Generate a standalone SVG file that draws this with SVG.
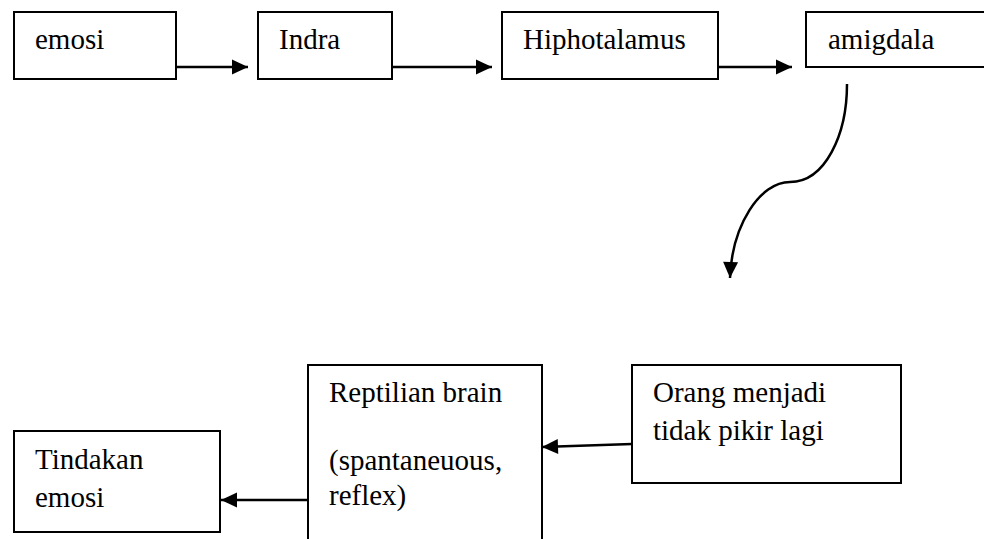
<svg xmlns="http://www.w3.org/2000/svg" width="984" height="539" viewBox="0 0 984 539">
<style>
.box{fill:#fff;stroke:#000;stroke-width:2}
.t{font-family:'Liberation Serif','Times New Roman',serif;font-size:29px;fill:#000}
.c{fill:none;stroke:#000;stroke-width:2.5}
</style>
<defs>
<marker id="ah" markerUnits="userSpaceOnUse" markerWidth="18" markerHeight="16" refX="16" refY="8" orient="auto" overflow="visible">
<path d="M0,0.5 L16,8 L0,15.5 z" fill="#000"/>
</marker>
</defs>
<rect width="984" height="539" fill="#fff"/>
<g id="connectors">
<path class="c" d="M176,67 H248" marker-end="url(#ah)"/>
<path class="c" d="M392,67 H492" marker-end="url(#ah)"/>
<path class="c" d="M718,67 H792" marker-end="url(#ah)"/>
<path class="c" d="M847,84 C847,135 825,182 790,182 C760,182 732,225 730,278" marker-end="url(#ah)"/>
<path class="c" d="M632,444 L542,447" marker-end="url(#ah)"/>
<path class="c" d="M308,500 L221,500" marker-end="url(#ah)"/>
</g>
<g id="emosi">
<rect class="box" x="14" y="12" width="162" height="67"/>
<text class="t" x="35" y="49">emosi</text>
</g>
<g id="indra">
<rect class="box" x="258" y="12" width="134" height="67"/>
<text class="t" x="279" y="49">Indra</text>
</g>
<g id="hiphotalamus">
<rect class="box" x="502" y="12" width="216" height="67"/>
<text class="t" x="523" y="49">Hiphotalamus</text>
</g>
<g id="amigdala">
<rect class="box" x="806" y="12" width="190" height="55"/>
<text class="t" x="828" y="49">amigdala</text>
</g>
<g id="orang">
<rect class="box" x="632" y="365" width="269" height="118"/>
<text class="t" x="653" y="402">Orang menjadi</text>
<text class="t" x="653" y="440">tidak pikir lagi</text>
</g>
<g id="reptilian">
<rect class="box" x="308" y="365" width="234" height="190"/>
<text class="t" x="329" y="402">Reptilian brain</text>
<text class="t" x="329" y="470">(spantaneuous,</text>
<text class="t" x="329" y="505">reflex)</text>
</g>
<g id="tindakan">
<rect class="box" x="14" y="431" width="206" height="101"/>
<text class="t" x="35" y="469">Tindakan</text>
<text class="t" x="35" y="507">emosi</text>
</g>
</svg>
